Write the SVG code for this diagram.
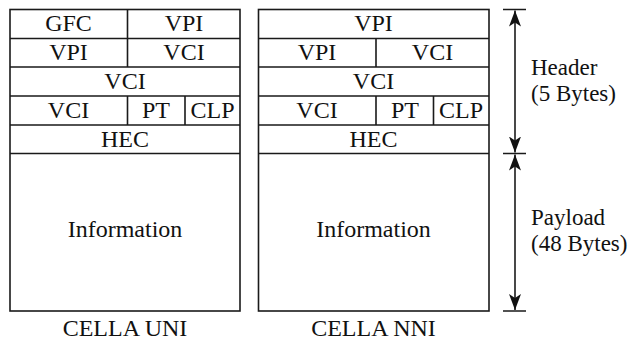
<svg xmlns="http://www.w3.org/2000/svg" width="634" height="340" viewBox="0 0 634 340">
<defs>
<style>
.box{fill:#fff;stroke:#1a1a1a;stroke-width:1.6}
.ln{stroke:#1a1a1a;stroke-width:1.6;fill:none}
.t{font-family:'Liberation Serif','Times New Roman',serif;font-size:24px;fill:#111}
.s{font-size:23px}
.c{text-anchor:middle}
</style>
<marker id="ah" viewBox="0 0 16 12" refX="16" refY="6" markerWidth="16" markerHeight="12" markerUnits="userSpaceOnUse" orient="auto-start-reverse">
<path d="M0,0 L16,6 L0,12 L4,6 Z" fill="#111"/>
</marker>
</defs>
<g id="uni">
<rect class="box" x="10" y="9.5" width="230" height="301.5"/>
<path class="ln" d="M10,38.5H240M10,67H240M10,96H240M10,125H240M10,153.5H240M127.5,9.5V67M127.5,96V125M185,96V125"/>
<text class="t c" x="68.5" y="31">GFC</text>
<text class="t c" x="184" y="31">VPI</text>
<text class="t c" x="68.5" y="60">VPI</text>
<text class="t c" x="184" y="60">VCI</text>
<text class="t c" x="125" y="89">VCI</text>
<text class="t c" x="68.5" y="118">VCI</text>
<text class="t c" x="156" y="118">PT</text>
<text class="t c" x="212.5" y="118">CLP</text>
<text class="t c" x="125" y="147">HEC</text>
<text class="t c" x="125" y="237">Information</text>
<text class="t c" x="125" y="336">CELLA UNI</text>
</g>
<g id="nni">
<rect class="box" x="258.5" y="9.5" width="230.5" height="301.5"/>
<path class="ln" d="M258.5,38.5H489M258.5,67H489M258.5,96H489M258.5,125H489M258.5,153.5H489M376,38.5V67M376,96V125M433.5,96V125"/>
<text class="t c" x="373.5" y="31">VPI</text>
<text class="t c" x="317" y="60">VPI</text>
<text class="t c" x="432.5" y="60">VCI</text>
<text class="t c" x="373.5" y="89">VCI</text>
<text class="t c" x="317" y="118">VCI</text>
<text class="t c" x="405" y="118">PT</text>
<text class="t c" x="461" y="118">CLP</text>
<text class="t c" x="373.5" y="147">HEC</text>
<text class="t c" x="373.5" y="237">Information</text>
<text class="t c" x="373.5" y="336">CELLA NNI</text>
</g>
<g id="connectors">
<path class="ln" d="M503,9.5H526M503,153.5H526M503,311H526"/>
<line class="ln" x1="515" y1="10.5" x2="515" y2="152.5" marker-start="url(#ah)" marker-end="url(#ah)"/>
<line class="ln" x1="515" y1="154.5" x2="515" y2="310" marker-start="url(#ah)" marker-end="url(#ah)"/>
</g>
<g id="labels">
<text class="t s" x="531" y="74.5">Header</text>
<text class="t s" x="531" y="100.5">(5 Bytes)</text>
<text class="t s" x="531" y="224.5">Payload</text>
<text class="t s" x="531" y="250.5">(48 Bytes)</text>
</g>
</svg>
